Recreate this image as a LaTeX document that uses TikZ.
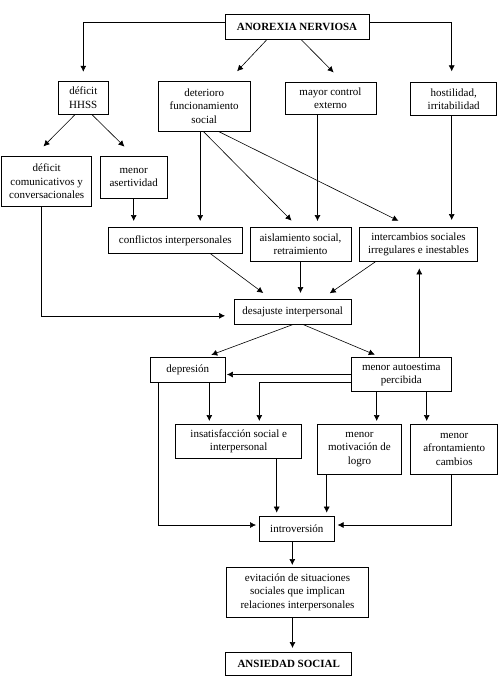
\documentclass[tikz,border=0pt]{standalone}
\usepackage{fontspec}
\setmainfont{Liberation Serif}
\usetikzlibrary{arrows.meta}
\begin{document}
\begin{tikzpicture}[x=1pt,y=-1pt]
\tikzstyle{caja}=[draw, line width=0.6pt, inner sep=1pt, align=center, font=\fontsize{11}{13.3}\selectfont]
\tikzstyle{flecha}=[line width=0.6pt, -{Latex[length=6pt,width=6pt]}, shorten >=3pt]
\useasboundingbox (0,0) rectangle (499,686);
\node[caja, minimum width=144pt, minimum height=25pt] (anorexia) at (297,26.7) {\textbf{ANOREXIA NERVIOSA}};
\node[caja, minimum width=50pt, minimum height=33.3pt] (hhss) at (83.3,97.7) {déficit\\HHSS};
\node[caja, minimum width=92pt, minimum height=50pt] (deterioro) at (204.2,106) {deterioro\\funcionamiento\\social};
\node[caja, minimum width=91pt, minimum height=31.7pt] (control) at (330.5,98.5) {mayor control\\externo};
\node[caja, minimum width=86pt, minimum height=33pt] (hostil) at (453.7,99.2) {hostilidad,\\irritabilidad};
\node[caja, minimum width=90pt, minimum height=50.7pt] (comunic) at (46.7,181.3) {déficit\\comunicativos y\\conversacionales};
\node[caja, minimum width=67.3pt, minimum height=42.3pt] (asert) at (133.7,177.2) {menor\\asertividad};
\node[caja, minimum width=134pt, minimum height=26pt] (confl) at (175.3,240.3) {conflictos interpersonales};
\node[caja, minimum width=101pt, minimum height=33.7pt] (aisla) at (300.5,244.2) {aislamiento social,\\retraimiento};
\node[caja, minimum width=118.4pt, minimum height=33.7pt] (interc) at (418.5,244.2) {intercambios sociales\\irregulares e inestables};
\node[caja, minimum width=116.7pt, minimum height=25pt] (desaj) at (292.7,311.8) {desajuste interpersonal};
\node[caja, minimum width=75.7pt, minimum height=25pt] (depres) at (187.8,369.8) {depresión};
\node[caja, minimum width=100.7pt, minimum height=34.4pt] (autoest) at (401.3,374.5) {menor autoestima\\percibida};
\node[caja, minimum width=126pt, minimum height=34pt] (insat) at (238.7,441.3) {insatisfacción social e\\interpersonal};
\node[caja, minimum width=84.4pt, minimum height=50pt] (motiv) at (359.5,449.3) {menor\\motivación de\\logro};
\node[caja, minimum width=87pt, minimum height=50pt] (afront) at (454.2,449.3) {menor\\afrontamiento\\cambios};
\node[caja, minimum width=75pt, minimum height=25.7pt] (intro) at (296.8,528.8) {introversión};
\node[caja, minimum width=141.6pt, minimum height=50pt] (evit) at (297.5,592.3) {evitación de situaciones\\sociales que implican\\relaciones interpersonales};
\node[caja, minimum width=126pt, minimum height=23pt] (ansied) at (288.7,663.8) {\textbf{ANSIEDAD SOCIAL}};
\draw[flecha, shorten >=9pt] ([yshift=4pt]anorexia.west) -| (hhss.north);
\draw[flecha, shorten >=11pt] ([yshift=4pt]anorexia.east) -| ([xshift=-2pt]hostil.north);
\draw[flecha, shorten >=13pt] ([xshift=-30pt]anorexia.south) -- ([xshift=24pt]deterioro.north);
\draw[flecha, shorten >=14pt] ([xshift=4pt]anorexia.south) -- ([xshift=13pt]control.north);
\draw[flecha, shorten >=13pt] ([xshift=-8.3pt]hhss.south) -- ([xshift=-12.4pt]comunic.north);
\draw[flecha, shorten >=13pt] ([xshift=8.7pt]hhss.south) -- (asert.north);
\draw[flecha, shorten >=6pt] (asert.south) -- (asert.south |- confl.north);
\draw[flecha, shorten >=6pt] ([xshift=-4pt]deterioro.south) -- ([xshift=-4pt]deterioro.south |- confl.north);
\draw[flecha, shorten >=9pt] ([xshift=-1pt]deterioro.south) -- ([xshift=-2.6pt]aisla.north);
\draw[flecha, shorten >=14pt] ([xshift=14pt]deterioro.south) -- ([xshift=-7.5pt]interc.north);
\draw[flecha, shorten >=6pt] ([xshift=-13pt]control.south) -- ([xshift=-13pt]control.south |- aisla.north);
\draw[flecha, shorten >=7pt] ([xshift=-2pt]hostil.south) -- ([xshift=-2pt]hostil.south |- interc.north);
\draw[flecha, shorten >=9pt] ([xshift=-5pt]comunic.south) |- ([yshift=-4pt]desaj.west);
\draw[flecha, shorten >=10pt] ([xshift=35pt]confl.south) -- ([xshift=-21.4pt]desaj.north);
\draw[flecha, shorten >=6pt] (aisla.south) -- (aisla.south |- desaj.north);
\draw[flecha, shorten >=10pt] ([xshift=-42.5pt]interc.south) -- ([xshift=28.8pt]desaj.north);
\draw[flecha, shorten >=7pt] ([xshift=18pt]autoest.north) -- ([xshift=18pt]autoest.north |- interc.south);
\draw[flecha, shorten >=6pt] (desaj.south) -- ([xshift=17.8pt]depres.north);
\draw[flecha, shorten >=6pt] ([xshift=10.6pt]desaj.south) -- ([xshift=-21pt]autoest.north);
\draw[flecha, shorten >=1pt] (autoest.west) -- (autoest.west -| depres.east);
\draw[flecha] ([yshift=-8pt]autoest.west) -| ([xshift=20.6pt]insat.north);
\draw[flecha] ([xshift=21.5pt]depres.south) -- ([xshift=21.5pt]depres.south |- insat.north);
\draw[flecha] ([xshift=-24.6pt]autoest.south) -- ([xshift=-24.6pt]autoest.south |- motiv.north);
\draw[flecha] ([xshift=25.4pt]autoest.south) -- ([xshift=25.4pt]autoest.south |- afront.north);
\draw[flecha] ([xshift=-29.5pt]depres.south) |- ([yshift=3.8pt]intro.west);
\draw[flecha] ([xshift=38pt]insat.south) -- ([xshift=38pt]insat.south |- intro.north);
\draw[flecha] ([xshift=-32.8pt]motiv.south) -- ([xshift=-32.8pt]motiv.south |- intro.north);
\draw[flecha] ([xshift=-2.5pt]afront.south) |- ([yshift=3.8pt]intro.east);
\draw[flecha, shorten >=2pt] ([xshift=-4.5pt]intro.south) -- ([xshift=-4.5pt]intro.south |- evit.north);
\draw[flecha, shorten >=4pt] ([xshift=-5pt]evit.south) -- ([xshift=-5pt]evit.south |- ansied.north);
\end{tikzpicture}
\end{document}
